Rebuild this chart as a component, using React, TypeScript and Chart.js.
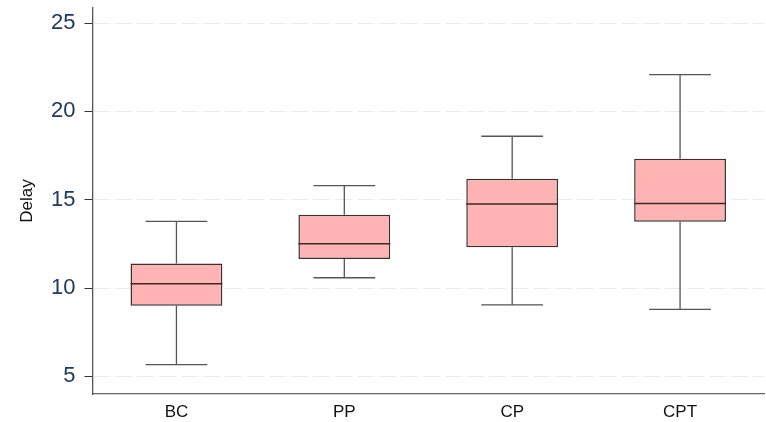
import React, { useEffect, useRef } from "react";
import { Chart, registerables } from "chart.js";

Chart.register(...registerables);

const categories = ["BC", "PP", "CP", "CPT"];
const whiskerLow = [5.66, 10.58, 9.05, 8.79];
const q1 = [9.0, 11.64, 12.31, 13.75];
const median = [10.24, 12.5, 14.75, 14.78];
const q3 = [11.39, 14.15, 16.18, 17.31];
const whiskerHigh = [13.77, 15.8, 18.59, 22.08];
const yTicks = [5, 10, 15, 20, 25];

const BOX_FRACTION = 0.547;
const CAP_FRACTION = 0.368;

const boxPlugin = {
  id: "boxExtras",
  beforeDatasetsDraw(chart: any) {
    const { ctx, scales } = chart;
    const x = scales.x;
    const y = scales.y;
    const catW = x.width / categories.length;
    ctx.save();
    ctx.strokeStyle = "#555555";
    ctx.lineWidth = 1.3;
    categories.forEach((_, i) => {
      const cx = x.getPixelForValue(i);
      const yl = y.getPixelForValue(whiskerLow[i]);
      const yh = y.getPixelForValue(whiskerHigh[i]);
      const y1 = y.getPixelForValue(q1[i]);
      const y3 = y.getPixelForValue(q3[i]);
      const half = (catW * CAP_FRACTION) / 2;
      ctx.beginPath();
      ctx.moveTo(cx, yh);
      ctx.lineTo(cx, y3);
      ctx.moveTo(cx, y1);
      ctx.lineTo(cx, yl);
      ctx.moveTo(cx - half, yh);
      ctx.lineTo(cx + half, yh);
      ctx.moveTo(cx - half, yl);
      ctx.lineTo(cx + half, yl);
      ctx.stroke();
    });
    ctx.restore();
  },
  afterDatasetsDraw(chart: any) {
    const { ctx, scales } = chart;
    const x = scales.x;
    const y = scales.y;
    const catW = x.width / categories.length;
    ctx.save();
    ctx.strokeStyle = "#3a2a2a";
    ctx.lineWidth = 1.5;
    categories.forEach((_, i) => {
      const cx = x.getPixelForValue(i);
      const ym = y.getPixelForValue(median[i]);
      const half = (catW * BOX_FRACTION) / 2;
      ctx.beginPath();
      ctx.moveTo(cx - half, ym);
      ctx.lineTo(cx + half, ym);
      ctx.stroke();
    });
    ctx.restore();
  },
};

export default function App() {
  const ref = useRef<HTMLCanvasElement | null>(null);
  useEffect(() => {
    if (!ref.current) return;
    const chart = new Chart(ref.current, {
      type: "bar",
      data: {
        labels: categories,
        datasets: [
          {
            label: "Delay",
            data: categories.map((_, i) => [q1[i], q3[i]]) as any,
            backgroundColor: "#ffb3b3",
            borderColor: "#333333",
            borderWidth: 1.5,
            borderSkipped: false,
            barPercentage: BOX_FRACTION,
            categoryPercentage: 1,
          },
        ],
      },
      options: {
        animation: false,
        responsive: false,
        maintainAspectRatio: false,
        layout: { padding: { top: 8, right: 2, left: 0, bottom: 0 } },
        plugins: {
          legend: { display: false },
          tooltip: { enabled: false },
        },
        scales: {
          x: {
            type: "category",
            grid: { display: false, drawTicks: false },
            border: { display: true, color: "#666666", width: 1.3 },
            ticks: {
              color: "#111111",
              padding: 8,
              font: { family: "'Liberation Sans', Arial, sans-serif", size: 17 },
            },
            afterFit: (s: any) => {
              s.height = 28;
              s.paddingLeft = 0;
              s.paddingRight = 0;
            },
          },
          y: {
            type: "linear",
            min: 4,
            max: 25.85,
            afterBuildTicks: (s: any) => {
              s.ticks = yTicks.map((v) => ({ value: v }));
            },
            afterFit: (s: any) => {
              s.width = 92.5;
              s.paddingTop = 0;
              s.paddingBottom = 0;
            },
            grid: {
              color: "#e8eded",
              lineWidth: 1,
              tickColor: "#333333",
              tickLength: 8,
              tickBorderDash: [],
              tickWidth: 1,
            },
            border: { display: true, color: "#555555", width: 1.3, dash: [17, 5] },
            ticks: {
              color: "#1f3864",
              padding: 9,
              font: { family: "'Liberation Sans', Arial, sans-serif", size: 22 },
            },
            title: {
              display: true,
              text: "Delay",
              color: "#111111",
              padding: { top: 17, bottom: 0 },
              font: { family: "'Liberation Sans', Arial, sans-serif", size: 17 },
            },
          },
        },
      },
      plugins: [boxPlugin],
    });
    return () => chart.destroy();
  }, []);
  return (
    <div style={{ position: "fixed", left: 0, top: 0, width: 766, height: 422, background: "#ffffff" }}>
      <canvas ref={ref} width={766} height={422} style={{ width: 766, height: 422 }} />
    </div>
  );
}
